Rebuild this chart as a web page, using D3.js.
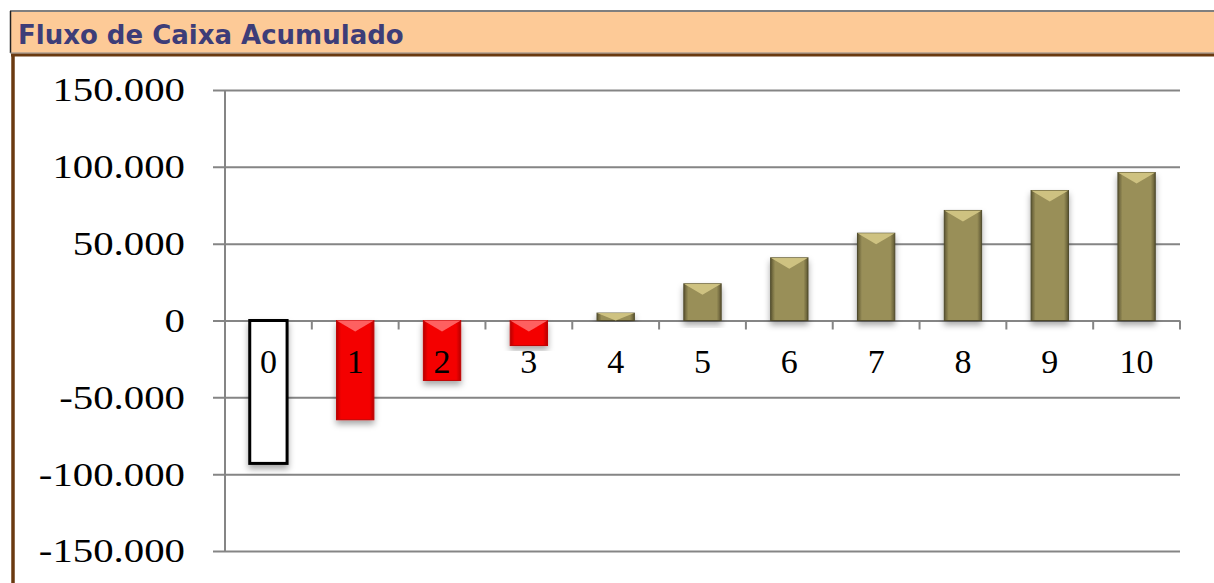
<!DOCTYPE html>
<html>
<head>
<meta charset="utf-8">
<script src="https://cdn.jsdelivr.net/npm/d3@7"></script>
<style>
  html, body { margin: 0; padding: 0; background: #fff; }
  svg { display: block; }
</style>
</head>
<body>
<div id="chart"></div>
<script>
// data
var categories = ["0", "1", "2", "3", "4", "5", "6", "7", "8", "9", "10"];
var values = [-93000, -64600, -39000, -16300, 4800, 23900, 40800, 56800, 71600, 84600, 96300];
var yTicks = [150000, 100000, 50000, 0, -50000, -100000, -150000];
var title = "Fluxo de Caixa Acumulado";

var svgWidth = 1214;
var svgHeight = 583;

var svg = d3.select("#chart").append("svg")
  .attr("width", svgWidth)
  .attr("height", svgHeight);

var defs = svg.append("defs");

// soft shadow under the bars
var shadow = defs.append("filter").attr("id", "shadow")
  .attr("x", "-30%").attr("y", "-10%").attr("width", "160%").attr("height", "130%");
shadow.append("feDropShadow")
  .attr("dx", 0).attr("dy", 4).attr("stdDeviation", 3)
  .attr("flood-color", "#000").attr("flood-opacity", 0.35);

function sideGradient(id, edge, mid) {
  var grad = defs.append("linearGradient").attr("id", id)
    .attr("x1", "0%").attr("x2", "100%").attr("y1", "0%").attr("y2", "0%");
  grad.append("stop").attr("offset", "0%").attr("stop-color", edge);
  grad.append("stop").attr("offset", "12%").attr("stop-color", mid);
  grad.append("stop").attr("offset", "88%").attr("stop-color", mid);
  grad.append("stop").attr("offset", "100%").attr("stop-color", edge);
}
sideGradient("olive", "#5d5632", "#998f58");
sideGradient("red", "#b80000", "#f40000");

// header band
svg.append("rect")
  .attr("x", 10).attr("y", 11)
  .attr("width", svgWidth - 10).attr("height", 42)
  .attr("fill", "#fdca97");
svg.append("line")
  .attr("x1", 10).attr("x2", svgWidth).attr("y1", 11).attr("y2", 11)
  .attr("stroke", "#7f7f7f").attr("stroke-width", 2);
svg.append("line")
  .attr("x1", 10.5).attr("x2", 10.5).attr("y1", 11).attr("y2", 53)
  .attr("stroke", "#222").attr("stroke-width", 1.5);
svg.append("line")
  .attr("x1", 10).attr("x2", svgWidth).attr("y1", 53).attr("y2", 53)
  .attr("stroke", "#8a8a8a").attr("stroke-width", 1);
svg.append("line")
  .attr("x1", 11).attr("x2", svgWidth).attr("y1", 55).attr("y2", 55)
  .attr("stroke", "#6b3a10").attr("stroke-width", 3);
svg.append("line")
  .attr("x1", 13).attr("x2", 13).attr("y1", 54).attr("y2", svgHeight)
  .attr("stroke", "#6b3a10").attr("stroke-width", 3.5);

svg.append("text")
  .attr("x", 18).attr("y", 44)
  .attr("font-family", "'DejaVu Sans', Verdana, sans-serif")
  .attr("font-weight", "bold")
  .attr("font-size", 26)
  .attr("fill", "#3d3d78")
  .text(title);

// plot area
var margin = {top: 90, left: 225, right: 34, bottom: 32};
var width = svgWidth - margin.left - margin.right;
var height = svgHeight - margin.top - margin.bottom;

var g = svg.append("g")
  .attr("transform", "translate(" + margin.left + "," + margin.top + ")");

var x = d3.scaleBand()
  .domain(categories)
  .range([0, width])
  .paddingInner(0.57)
  .paddingOuter(0.285);

var y = d3.scaleLinear()
  .domain([-150000, 150000])
  .range([height, 0]);

var fmt = function(d) { return d3.format(",")(d).replace(/,/g, ".").replace("\u2212", "-"); };

// gridlines + y labels (labels are a bit stretched sideways in the original)
var stretch = 1.2;
var yAxis = g.append("g")
  .call(d3.axisLeft(y).tickValues(yTicks).tickSize(-width).tickFormat(fmt));
yAxis.select(".domain").remove();
yAxis.selectAll(".tick line")
  .attr("x1", -12)
  .attr("stroke", "#858585").attr("stroke-width", 2);
yAxis.selectAll(".tick text")
  .attr("x", -40 / stretch)
  .attr("transform", "scale(" + stretch + ",1)")
  .attr("font-family", "'Liberation Serif', 'Times New Roman', serif")
  .attr("font-size", 34)
  .attr("fill", "#000");

// vertical axis line
g.append("line")
  .attr("x1", 0).attr("x2", 0).attr("y1", 0).attr("y2", height)
  .attr("stroke", "#858585").attr("stroke-width", 2);

// x ticks on the zero line, between the bands
var step = x.step();
var boundaries = categories.map(function(c) { return x(c) + x.bandwidth() / 2 + step / 2; });
g.selectAll(".xtick").data(boundaries).enter().append("line")
  .attr("class", "xtick")
  .attr("x1", function(d) { return d; }).attr("x2", function(d) { return d; })
  .attr("y1", y(0)).attr("y2", y(0) + 9)
  .attr("stroke", "#858585").attr("stroke-width", 2);

// bars
var bars = g.selectAll(".bar").data(values).enter().append("g")
  .attr("class", "bar")
  .attr("filter", "url(#shadow)");

bars.append("rect")
  .attr("x", function(d, i) { return x(categories[i]); })
  .attr("y", function(d) { return y(Math.max(0, d)); })
  .attr("width", x.bandwidth())
  .attr("height", function(d) { return Math.abs(y(d) - y(0)); })
  .attr("fill", function(d, i) { return i === 0 ? "#fff" : (d < 0 ? "url(#red)" : "url(#olive)"); })
  .attr("stroke", function(d, i) { return i === 0 ? "#000" : (d < 0 ? "#c00000" : "#4f4a2b"); })
  .attr("stroke-width", function(d, i) { return i === 0 ? 3 : 1; });

// bevel highlight at the top of coloured bars
bars.filter(function(d, i) { return i > 0; }).append("path")
  .attr("d", function(d) {
    var idx = values.indexOf(d);
    var x0 = x(categories[idx]);
    var w = x.bandwidth();
    var top = y(Math.max(0, d));
    var h = Math.min(Math.abs(y(d) - y(0)), 11);
    return "M" + x0 + "," + top + "L" + (x0 + w) + "," + top +
      "L" + (x0 + w * 0.5) + "," + (top + h) + "Z";
  })
  .attr("fill", function(d) { return d < 0 ? "#ff6a6a" : "#d4c886"; })
  .attr("opacity", 0.9);

// category labels
g.selectAll(".xlabel").data(categories).enter().append("text")
  .attr("class", "xlabel")
  .attr("x", function(d) { return x(d) + x.bandwidth() / 2; })
  .attr("y", y(0) + 52)
  .attr("text-anchor", "middle")
  .attr("font-family", "'Liberation Serif', 'Times New Roman', serif")
  .attr("font-size", 34)
  .attr("fill", "#000")
  .text(function(d) { return d; });
</script>
</body>
</html>
